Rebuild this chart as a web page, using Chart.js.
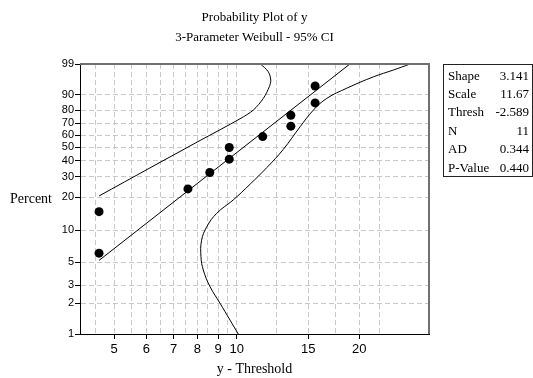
<!DOCTYPE html>
<html><head><meta charset="utf-8">
<script src="https://cdn.jsdelivr.net/npm/chart.js@4/dist/chart.umd.min.js"></script>
<style>html,body{margin:0;padding:0;background:#fff}canvas{display:block}</style>
</head><body>
<canvas id="c" width="533" height="378"></canvas>
<script>
// y - Threshold values and median-rank percents of the 11 observations
const xData = [4.589, 4.589, 7.589, 8.589, 9.589, 9.589, 11.589, 13.589, 13.589, 15.589, 15.589];
const pData = [6.1, 14.9, 23.7, 32.5, 41.2, 50.0, 58.8, 67.5, 76.3, 85.1, 93.9];
// fitted Weibull line (end points)
const fitX = [4.589, 18.98];
const fitP = [5.2, 99];
// upper 95% CI band
const upperX = [4.59, 6.12, 8.13, 10.19, 10.99, 11.63, 12.03, 12.13, 11.96, 11.45];
const upperP = [20.6, 35.3, 55.6, 73.5, 80.2, 87.9, 93.6, 95.9, 97.9, 99];
// lower 95% CI band
const lowerX = [10.09, 9.63, 9.10, 8.60, 8.28, 8.17, 8.20, 8.44, 8.93, 9.81, 10.79, 11.86, 13.02, 14.32, 15.44, 16.66, 18.65, 21.69, 24.28, 26.69];
const lowerP = [1, 1.37, 2.0, 2.9, 4.2, 5.65, 8.1, 10.8, 14.4, 19.0, 26.0, 35.5, 48.5, 67.0, 80.2, 87.9, 93.0, 96.8, 98.2, 99];
// axis ticks
const yTickPercents = [1, 2, 3, 5, 10, 20, 30, 40, 50, 60, 70, 80, 90, 99];
const xTickLabels = [5, 6, 7, 8, 9, 10, 15, 20];
const xGrid = [4.5, 5, 5.5, 6, 6.5, 7, 7.5, 8, 8.5, 9, 9.5, 10, 12.5, 15, 17.5, 20, 22.5];
const xMin = 4.12, xMax = 29.7;
// stats table
const statNames = ['Shape', 'Scale', 'Thresh', 'N', 'AD', 'P-Value'];
const statValues = ['3.141', '11.67', '-2.589', '11', '0.344', '0.440'];
const titleLines = ['Probability Plot of y', '3-Parameter Weibull - 95% CI'];
const yTitle = 'Percent';
const xTitle = 'y - Threshold';

const w = p => Math.log(-Math.log(1 - p / 100));
const pts = (xs, ps) => xs.map((x, i) => ({x: x, y: w(ps[i])}));

const SERIF = '"Liberation Serif", "Times New Roman", serif';
const SANS = '"Liberation Sans", Arial, sans-serif';

const decor = {
  id: 'decor',
  afterDraw(chart) {
    const ctx = chart.ctx, a = chart.chartArea;
    ctx.save();
    // frame top / right
    ctx.strokeStyle = '#707070';
    ctx.lineWidth = 2;
    ctx.beginPath();
    ctx.moveTo(a.left, a.top); ctx.lineTo(a.right, a.top); ctx.lineTo(a.right, a.bottom);
    ctx.stroke();
    ctx.fillStyle = '#000';
    ctx.textAlign = 'center';
    ctx.textBaseline = 'alphabetic';
    const cx = (a.left + a.right) / 2;
    ctx.font = '13px ' + SERIF;
    ctx.fillText(titleLines[0], cx, 21);
    ctx.fillText(titleLines[1], cx, 41);
    ctx.font = '14px ' + SERIF;
    ctx.fillText(xTitle, cx, 373);
    ctx.textAlign = 'left';
    ctx.fillText(yTitle, 10, 203);
    // stats box
    ctx.strokeStyle = '#222';
    ctx.lineWidth = 1;
    ctx.strokeRect(443.5, 64.5, 89, 112);
    ctx.font = '13px ' + SERIF;
    statNames.forEach((n, i) => {
      const y = 79.5 + i * 18.45;
      ctx.textAlign = 'left';
      ctx.fillText(n, 448, y);
      ctx.textAlign = 'right';
      ctx.fillText(statValues[i], 529, y);
    });
    ctx.restore();
  }
};

const line = {showLine: true, pointRadius: 0, borderColor: '#000', borderWidth: 1, backgroundColor: '#000'};

new Chart(document.getElementById('c'), {
  type: 'scatter',
  data: {
    datasets: [
      Object.assign({label: 'Upper', data: pts(upperX, upperP), tension: 0.3}, line),
      Object.assign({label: 'Lower', data: pts(lowerX, lowerP), tension: 0.4}, line),
      Object.assign({label: 'Fit', data: pts(fitX, fitP), tension: 0}, line),
      {label: 'y', data: pts(xData, pData), pointRadius: 4.5, backgroundColor: '#000', borderWidth: 0, showLine: false}
    ]
  },
  options: {
    responsive: false,
    devicePixelRatio: 1,
    animation: false,
    layout: {padding: {left: 0, top: 64, right: 104, bottom: 0}},
    plugins: {legend: {display: false}, title: {display: false}, tooltip: {enabled: false}},
    scales: {
      x: {
        type: 'logarithmic',
        min: xMin, max: xMax,
        afterBuildTicks: s => { s.ticks = xGrid.map(v => ({value: v})); },
        afterFit: s => { s.height = 44; },
        ticks: {
          autoSkip: false, maxRotation: 0, padding: 3, color: '#000',
          font: {family: SANS, size: 13},
          callback: v => xTickLabels.includes(v) ? String(v) : ''
        },
        grid: {
          color: '#c8c8c8', lineWidth: 1, tickLength: 5,
          tickColor: c => (c.tick && xTickLabels.includes(c.tick.value)) ? '#000' : 'rgba(0,0,0,0)'
        },
        border: {display: true, color: '#000', width: 1, dash: [5, 3]}
      },
      y: {
        type: 'linear',
        min: w(1), max: w(99),
        afterBuildTicks: s => { s.ticks = yTickPercents.map(p => ({value: w(p)})); },
        afterFit: s => { s.width = 80; },
        ticks: {
          autoSkip: false, padding: 1, color: '#000',
          font: {family: SANS, size: 11},
          callback: (v, i) => String(yTickPercents[i])
        },
        grid: {color: '#c8c8c8', lineWidth: 1, tickLength: 5, tickColor: '#000'},
        border: {display: true, color: '#000', width: 1, dash: [5, 3]}
      }
    }
  },
  plugins: [decor]
});
</script>
</body></html>
